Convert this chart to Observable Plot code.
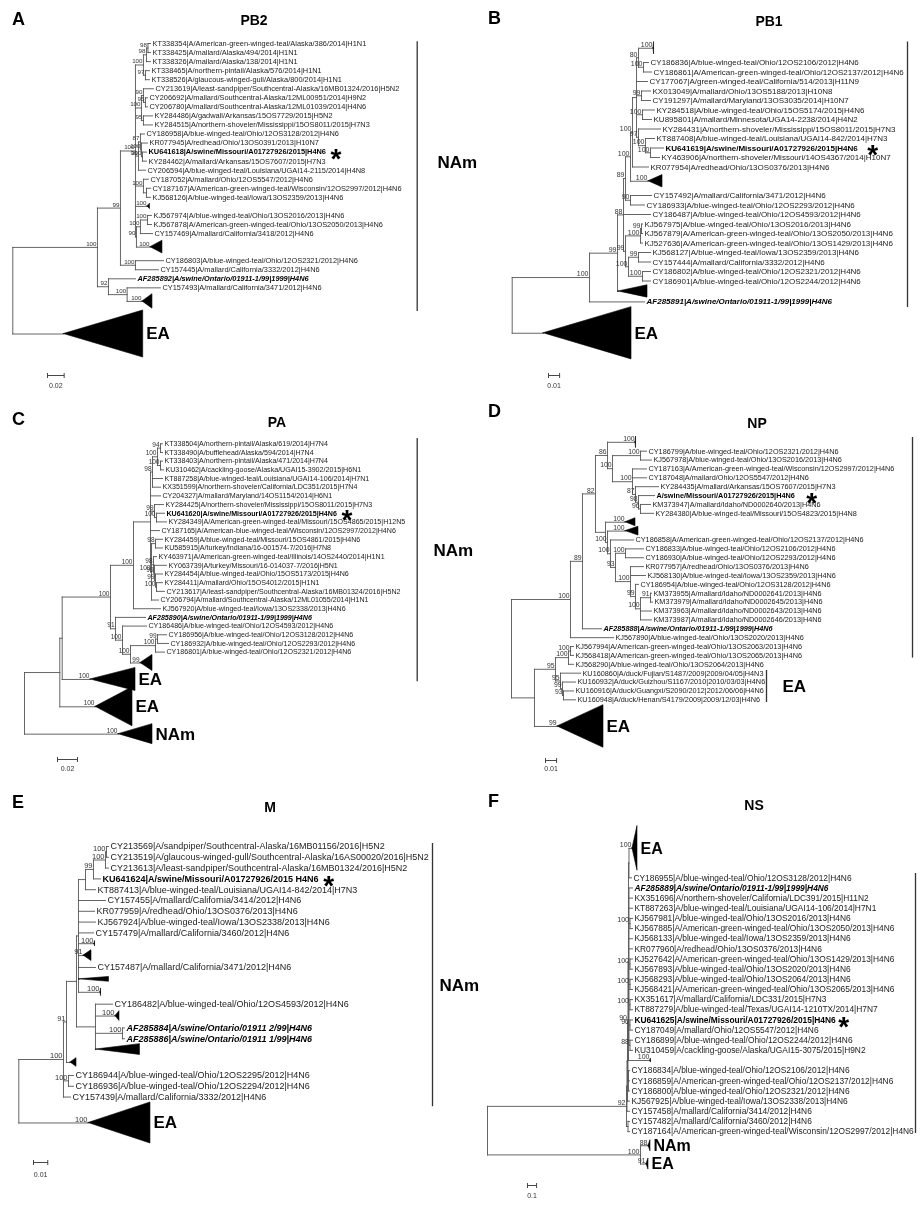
<!DOCTYPE html>
<html><head><meta charset="utf-8">
<script src="https://cdn.jsdelivr.net/npm/d3@7"></script>
<script src="https://cdn.jsdelivr.net/npm/@observablehq/plot@0.6"></script>
<style>
body{margin:0;background:#fff;}
#fig{position:relative;width:922px;height:1205px;overflow:hidden;font-family:"Liberation Sans",Arial,Helvetica,sans-serif;background:#fff;}
.panel{position:absolute;will-change:transform;}
.panel svg{overflow:visible;}
.lab{position:absolute;font-weight:bold;line-height:1;white-space:nowrap;color:#000;}
</style></head><body><div id="fig"></div>
<script>
// ---------- DATA: trees (Newick, branch lengths in substitutions/site; internal labels = bootstrap) ----------
// collapsed clade leaf: #slotRows/heightRows/length/label/support
const treePB2 = `(
 (
  (
   (
    (
     (
      (KT338354|A/American-green-winged-teal/Alaska/386/2014|H1N1:0.003,
       KT338425|A/mallard/Alaska/494/2014|H1N1:0.003)98:0.0018,
      KT338326|A/mallard/Alaska/138/2014|H1N1:0.0048)98:0.0036,
     (KT338465|A/northern-pintail/Alaska/576/2014|H1N1:0.0048,
      KT338526|A/glaucous-winged-gull/Alaska/800/2014|H1N1:0.0048)97:0.0024)100:0.0096,
    (
     (CY213619|A/least-sandpiper/Southcentral-Alaska/16MB01324/2016|H5N2:0.012,
      (CY206692|A/mallard/Southcentral-Alaska/12ML00951/2014|H9N2:0.0024,
       CY206780|A/mallard/Southcentral-Alaska/12ML01039/2014|H4N6:0.0024)95:0.0024)90:0.0024,
     (KY284486|A/gadwall/Arkansas/15OS7729/2015|H5N2:0.0108,
      KY284515|A/northern-shoveler/Mississippi/15OS8011/2015|H7N3:0.0108)95:0.0024)100:0.0072,
    (
     (CY186958|A/blue-winged-teal/Ohio/12OS3128/2012|H4N6:0.0048,
      (KR077945|A/redhead/Ohio/13OS0391/2013|H10N7:0.0072,
       (KU641618|A/swine/Missouri/A01727926/2015|H4N6:0.0048,
        KY284462|A/mallard/Arkansas/15OS7607/2015|H7N3:0.0048)100:0.0012)100:0.0012)87:0.0024,
     CY206594|A/blue-winged-teal/Louisiana/UGAI14-2115/2014|H4N8:0.0084)96:0.0036,
    (CY187052|A/mallard/Ohio/12OS5547/2012|H4N6:0.006,
     (CY187167|A/American-green-winged-teal/Wisconsin/12OS2997/2012|H4N6:0.0048,
      KJ568126|A/blue-winged-teal/Iowa/13OS2359/2013|H4N6:0.0048):0.0036)100:0.0096,
    #1/0.6/0.003//100:0.0144,
    (
     (
      (KJ567974|A/blue-winged-teal/Ohio/13OS2016/2013|H4N6:0.0048,
       KJ567878|A/American-green-winged-teal/Ohio/13OS2050/2013|H4N6:0.0048)100:0.0084,
      CY157469|A/mallard/California/3418/2012|H4N6:0.0144)100:0.0048,
     #2/1.4/0.0144//100:0.0168)90:0.0012)100:0.018,
   (CY186803|A/blue-winged-teal/Ohio/12OS2321/2012|H4N6:0.0336,
    CY157445|A/mallard/California/3332/2012|H4N6:0.0276)100:0.018)99:0.0276,
  (AF285892|A/swine/Ontario/01911-1/99|1999|H4N6:0.0324,
   (CY157493|A/mallard/California/3471/2012|H4N6:0.04,
    #2/1.6/0.012//100:0.0184)100:0.0224)92:0.0132)100:0.1016,
 #5.2/5.2/0.0953/EA/:0.0612
);`;

const treePB1 = `(
 (
  (
   (
    (
     (
      (
       (
        (#2/1.3/0.0005//100:0.0135,
         (CY186836|A/blue-winged-teal/Ohio/12OS2106/2012|H4N6:0.0045,
          CY186861|A/American-green-winged-teal/Ohio/12OS2137/2012|H4N6:0.0072)100:0.0045)80:0.0018,
        CY177067|A/green-winged-teal/California/514/2013|H11N9:0.0099,
        (KX013049|A/mallard/Ohio/13OS5188/2013|H10N8:0.0081,
         CY191297|A/mallard/Maryland/13OS3035/2014|H10N7:0.0081)99:0.0045,
        (KY284518|A/blue-winged-teal/Ohio/15OS5174/2015|H4N6:0.0108,
         KU895801|A/mallard/Minnesota/UGA14-2238/2014|H4N2:0.0081)100:0.0054,
        (KY284431|A/northern-shoveler/Mississippi/15OS8011/2015|H7N3:0.0198,
         (KT887408|A/blue-winged-teal/Louisiana/UGAI14-842/2014|H7N3:0.0081,
          (KU641619|A/swine/Missouri/A01727926/2015|H4N6:0.0117,
           KY463906|A/northern-shoveler/Missouri/14OS4367/2014|H10N7:0.0081)100:0.0045)100:0.0063)97:0.0018):0.0036,
       KR077954|A/redhead/Ohio/13OS0376/2013|H4N6:0.0144)100:0.0018,
      #2/1.3/0.0126//100:0.0162)100:0.0045,
     (CY157492|A/mallard/California/3471/2012|H4N6:0.0189,
      CY186933|A/blue-winged-teal/Ohio/12OS2293/2012|H4N6:0.0126)90:0.0045)89:0.0018,
    CY186487|A/blue-winged-teal/Ohio/12OS4593/2012|H4N6:0.0243,
    (
     (
      (KJ567975|A/blue-winged-teal/Ohio/13OS2016/2013|H4N6:0.0009,
       KJ567879|A/American-green-winged-teal/Ohio/13OS2050/2013|H4N6:0.0009)99:0.0009,
      KJ527636|A/American-green-winged-teal/Ohio/13OS1429/2013|H4N6:0.0018)100:0.0135,
     (
      (KJ568127|A/blue-winged-teal/Iowa/13OS2359/2013|H4N6:0.0108,
       CY157444|A/mallard/California/3332/2012|H4N6:0.0108)99:0.009,
      (CY186802|A/blue-winged-teal/Ohio/12OS2321/2012|H4N6:0.0072,
       CY186901|A/blue-winged-teal/Ohio/12OS2244/2012|H4N6:0.0072)100:0.0126)100:0.0027)99:0.0018)88:0.0054,
   #1.2/1.3/0.0261//:0.0009)99:0.0252,
  AF285891|A/swine/Ontario/01911-1/99|1999|H4N6:0.0495)100:0.0696,
 #5.6/5.5/0.0792/EA/:0.0282
);`;

const treePA = `(
 (
  (
   (
    (
     (
      (
       ((KT338504|A/northern-pintail/Alaska/619/2014|H7N4:0.002,
         KT338490|A/bufflehead/Alaska/594/2014|H7N4:0.002)94:0.003,
        (KT338403|A/northern-pintail/Alaska/471/2014|H7N4:0.002,
         KU310462|A/cackling-goose/Alaska/UGAI15-3902/2015|H6N1:0.003)100:0.003)100:0.005,
       KT887258|A/blue-winged-teal/Louisiana/UGAI14-106/2014|H7N1:0.010,
       KX351599|A/northern-shoveler/California/LDC351/2015|H7N4:0.008)98:0.002,
      CY204327|A/mallard/Maryland/14OS1154/2014|H6N1:0.010,
      (KY284425|A/northern-shoveler/Mississippi/15OS8011/2015|H7N3:0.009,
       (KU641620|A/swine/Missouri/A01727926/2015|H4N6:0.008,
        KY284349|A/American-green-winged-teal/Missouri/15OS4865/2015|H12N5:0.010)100:0.002)99:0.004,
      CY187165|A/American-blue-winged-teal/Wisconsin/12OS2997/2012|H4N6:0.009,
      (
       (KY284459|A/blue-winged-teal/Missouri/15OS4861/2015|H4N6:0.007,
        KU585915|A/turkey/Indiana/16-001574-7/2016|H7N8:0.007)98:0.004,
       (KY463971|A/American-green-winged-teal/Illinois/14OS2440/2014|H1N1:0.003,
        (KY063739|A/turkey/Missouri/16-014037-7/2016|H5N1:0.012,
         (KY284454|A/blue-winged-teal/Ohio/15OS5173/2015|H4N6:0.007,
          (KY284411|A/mallard/Ohio/15OS4012/2015|H1N1:0.006,
           CY213617|A/least-sandpiper/Southcentral-Alaska/16MB01324/2016|H5N2:0.008)100:0.001)99:0.001)99:0.001)98:0.002,
       CY206794|A/mallard/Southcentral-Alaska/12ML01055/2014|H1N1:0.007)100:0.001):0.017,
     KJ567920|A/blue-winged-teal/Iowa/13OS2338/2013|H4N6:0.027)100:0.023,
    (AF285890|A/swine/Ontario/01911-1/99|1999|H4N6:0.030,
     (CY186486|A/blue-winged-teal/Ohio/12OS4593/2012|H4N6:0.024,
      (
       ((CY186956|A/blue-winged-teal/Ohio/12OS3128/2012|H4N6:0.009,
         CY186932|A/blue-winged-teal/Ohio/12OS2293/2012|H4N6:0.011)99:0.002,
        CY186801|A/blue-winged-teal/Ohio/12OS2321/2012|H4N6:0.009)100:0.025,
       #1.5/1.85/0.012//99:0.010)100:0.008)100:0.007)91:0.005)100:0.0483,
   #2.3/2.65/0.045/EA/100:0.0283):0.0024,
  #4/4.5/0.037/EA/100:0.0357):0.0353,
 #2.3/2.3/0.034/NAm/100:0.094
);`;

const treeNP = `(
 (
  (
   (
    (#1/1.3/0.0005//100:0.0252,
     (
      (CY186799|A/blue-winged-teal/Ohio/12OS2321/2012|H4N6:0.0054,
       KJ567978|A/blue-winged-teal/Ohio/13OS2016/2013|H4N6:0.0099)100:0.0252,
      (CY187163|A/American-green-winged-teal/Wisconsin/12OS2997/2012|H4N6:0.0126,
       CY187048|A/mallard/Ohio/12OS5547/2012|H4N6:0.0126,
       (KY284435|A/mallard/Arkansas/15OS7607/2015|H7N3:0.0207,
        (A/swine/Missouri/A01727926/2015|H4N6:0.0144,
         (KM373947|A/mallard/Idaho/ND0002640/2013|H4N6:0.009,
          KY284380|A/blue-winged-teal/Missouri/15OS4823/2015|H4N8:0.0117)96:0.0018)98:0.0027)87:0.0027)100:0.018)100:0.0045)86:0.0108,
    (#1/0.9/0.009//100:0.018,
     (#1/1/0.0117//100:0.0162,
      (CY186858|A/American-green-winged-teal/Ohio/12OS2137/2012|H4N6:0.0207,
       (
        (CY186833|A/blue-winged-teal/Ohio/12OS2106/2012|H4N6:0.0162,
         CY186930|A/blue-winged-teal/Ohio/12OS2293/2012|H4N6:0.0162)100:0.009,
        (KR077957|A/redhead/Ohio/13OS0376/2013|H4N6:0.0117,
         KJ568130|A/blue-winged-teal/Iowa/13OS2359/2013|H4N6:0.0135,
         (CY186954|A/blue-winged-teal/Ohio/12OS3128/2012|H4N6:0.0027,
          (
           (KM373955|A/mallard/Idaho/ND0002641/2013|H4N6:0.0009,
            KM373979|A/mallard/Idaho/ND0002645/2013|H4N6:0.0018)91:0.009,
           KM373963|A/mallard/Idaho/ND0002643/2013|H4N6:0.0099,
           KM373987|A/mallard/Idaho/ND0002646/2013|H4N6:0.0099)100:0.0045)99:0.0045)100:0.0135)93:0.0045)100:0.0027)100:0.0018):0.009)82:0.0117,
   AF285888|A/swine/Ontario/01911-1/99|1999|H4N6:0.0171)89:0.0108,
  KJ567890|A/blue-winged-teal/Ohio/13OS2020/2013|H4N6:0.0387)100:0.0531,
 (
  (
   ((KJ567994|A/American-green-winged-teal/Ohio/13OS2063/2013|H4N6:0.0027,
     KJ568418|A/American-green-winged-teal/Ohio/13OS2065/2013|H4N6:0.0027)100:0.0018,
    KJ568290|A/blue-winged-teal/Ohio/13OS2064/2013|H4N6:0.0045)100:0.0117,
   (KU160860|A/duck/Fujian/S1487/2009|2009/04/05|H4N3:0.018,
    (KU160932|A/duck/Guizhou/S1167/2010|2010/03/03|H4N6:0.0117,
     (KU160916|A/duck/Guangxi/S2090/2012|2012/06/06|H4N6:0.009,
      KU160948|A/duck/Henan/S4179/2009|2009/12/03|H4N6:0.0108)93:0.0009)99:0.0018)95:0.0045)95:0.0189,
  #5/4.8/0.0414/EA/99:0.0207):0.0207
);`;

const treeM = `(
 (
  (
   (
    (
     (
      (
       (
        (CY213569|A/sandpiper/Southcentral-Alaska/16MB01156/2016|H5N2:0.0014,
         CY213519|A/glaucous-winged-gull/Southcentral-Alaska/16AS00020/2016|H5N2:0.0014)100:0.0007,
        CY213613|A/least-sandpiper/Southcentral-Alaska/16MB01324/2016|H5N2:0.0021)100:0.0084,
       KU641624|A/swine/Missouri/A01727926/2015 H4N6:0.0049)99:0.0056,
      KT887413|A/blue-winged-teal/Louisiana/UGAI14-842/2014|H7N3:0.007):0.0049,
     CY157455|A/mallard/California/3414/2012|H4N6:0.0189,
     KR077959|A/redhead/Ohio/13OS0376/2013|H4N6:0.0112,
     KJ567924|A/blue-winged-teal/Iowa/13OS2338/2013|H4N6:0.0119,
     CY157479|A/mallard/California/3460/2012|H4N6:0.0105,
     #1/0.5/0.0004//100:0.0112,
     #1.2/1/0.0056//91:0.0035,
     CY157487|A/mallard/California/3471/2012|H4N6:0.0119,
     #1.2/0.45/0.021//:0.00035,
     #1.2/0.7/0.0004//100:0.0154):0.0014,
    (CY186482|A/blue-winged-teal/Ohio/12OS4593/2012|H4N6:0.0119,
     #1.2/0.9/0.0028//100:0.014,
     (AF285884|A/swine/Ontario/01911 2/99|H4N6:0.0014,
      AF285886|A/swine/Ontario/01911 1/99|H4N6:0.0014)100:0.0189,
     #1/1/0.0308//:0.00035):0.0133):0.007,
   #1.4/0.8/0.0042//:0.0028)91:0.0021,
  (CY186944|A/blue-winged-teal/Ohio/12OS2295/2012|H4N6:0.0035,
   CY186936|A/blue-winged-teal/Ohio/12OS2294/2012|H4N6:0.0035)100:0.0035,
  CY157439|A/mallard/California/3332/2012|H4N6:0.0049)100:0.0313,
 #3.8/3.8/0.0434/EA/100:0.0488
);`;

const treeNS = `(
 (
  (
   (
    (
     (
      (#4.8/4.4/0.055/EA/100:0.0385,
       CY186955|A/blue-winged-teal/Ohio/12OS3128/2012|H4N6:0.0275):0.0055,
      (AF285889|A/swine/Ontario/01911-1/99|1999|H4N6:0.0385,
       KX351696|A/northern-shoveler/California/LDC391/2015|H11N2:0.0385,
       KT887263|A/blue-winged-teal/Louisiana/UGAI14-106/2014|H7N1:0.0385,
       (KJ567981|A/blue-winged-teal/Ohio/13OS2016/2013|H4N6:0.0275,
        KJ567885|A/American-green-winged-teal/Ohio/13OS2050/2013|H4N6:0.0275)100:0.011,
       KJ568133|A/blue-winged-teal/Iowa/13OS2359/2013|H4N6:0.0385,
       KR077960|A/redhead/Ohio/13OS0376/2013|H4N6:0.0385,
       (KJ527642|A/American-green-winged-teal/Ohio/13OS1429/2013|H4N6:0.0275,
        KJ567893|A/blue-winged-teal/Ohio/13OS2020/2013|H4N6:0.0275)100:0.011,
       (KJ568293|A/blue-winged-teal/Ohio/13OS2064/2013|H4N6:0.0275,
        KJ568421|A/American-green-winged-teal/Ohio/13OS2065/2013|H4N6:0.0275)100:0.011,
       (KX351617|A/mallard/California/LDC331/2015|H7N3:0.0275,
        KT887279|A/blue-winged-teal/Texas/UGAI14-1210TX/2014|H7N7:0.0275)100:0.011,
       (KU641625|A/swine/Missouri/A01727926/2015|H4N6:0.0275,
        CY187049|A/mallard/Ohio/12OS5547/2012|H4N6:0.0275)96:0.011,
       (CY186899|A/blue-winged-teal/Ohio/12OS2244/2012|H4N6:0.0275,
        KU310459|A/cackling-goose/Alaska/UGAI15-3075/2015|H9N2:0.0275)88:0.011):0.0055,
      #1/0.4/0.004//100:0.242):0.0055,
     (CY186834|A/blue-winged-teal/Ohio/12OS2106/2012|H4N6:0.011,
      CY186859|A/American-green-winged-teal/Ohio/12OS2137/2012|H4N6:0.011,
      CY186800|A/blue-winged-teal/Ohio/12OS2321/2012|H4N6:0.011):0.0055)90:0.0055,
    KJ567925|A/blue-winged-teal/Iowa/13OS2338/2013|H4N6:0.022):0.0055,
   CY157458|A/mallard/California/3414/2012|H4N6:0.0275):0.0055,
  (CY157482|A/mallard/California/3460/2012|H4N6:0.0165,
   CY187164|A/American-green-winged-teal/Wisconsin/12OS2997/2012|H4N6:0.0165):0.0165)92:1.529,
 (#1.8/1.1/0.022/NAm/88:0.088,
  #1.8/1.1/0.022/EA/91:0.066)100:1.683
);`;

const panelLetters = ["A", "B", "C", "D", "E", "F"];
const geneSegments = ["PB2", "PB1", "PA", "NP", "M", "NS"];
const trees = [treePB2, treePB1, treePA, treeNP, treeM, treeNS];
const scaleBarValues = [0.02, 0.01, 0.02, 0.01, 0.01, 0.1];
const scaleBarLabels = ["0.02", "0.01", "0.02", "0.01", "0.01", "0.1"];
const cladeBarLabels = [["NAm"], [""], ["NAm"], ["", "EA"], ["NAm"], [""]];

// ---------- LAYOUT (pixels) ----------
const layouts = [
  {left:0, top:0, w:460, h:400, rootX:12.3, ppu:833.3, row0:43, sp:9.05, tipFS:7.4, supFS:6.2, cladeFS:17,
   bars:[{px:416.7, y1:-0.2, y2:29.6, lx:437, ly:13.2}], sb:{px:47, py:375, ly:385}, starGap:10,
   letter:{x:12, base:25}, title:{x:254, base:25}},
  {left:460, top:0, w:460, h:400, rootX:51.7, ppu:1111, row0:43, sp:9.5, tipFS:8, supFS:7, cladeFS:17,
   bars:[{px:447, y1:-0.15, y2:27.8}], sb:{px:88, py:375, ly:385}, starGap:15,
   letter:{x:488, base:24}, title:{x:769, base:26}},
  {left:0, top:400, w:460, h:390, rootX:24, ppu:1000, row0:43.3, sp:8.68, tipFS:7.1, supFS:6.5, cladeFS:17,
   bars:[{px:416.7, y1:-0.6, y2:27.4, lx:433, ly:12.3}], sb:{px:57, py:359, ly:368}, starGap:10,
   letter:{x:12, base:425}, title:{x:277, base:427}},
  {left:460, top:400, w:460, h:390, rootX:51, ppu:1111, row0:41.8, sp:8.88, tipFS:7.3, supFS:6.8, cladeFS:17,
   bars:[{px:452, y1:-0.54, y2:24.3}, {px:306, y1:25.7, y2:29.3, lx:322, ly:27.5}], sb:{px:85, py:360, ly:368}, starGap:17,
   letter:{x:488, base:417}, title:{x:757, base:428}},
  {left:0, top:790, w:460, h:415, rootX:18.3, ppu:1428, row0:56, sp:10.8, tipFS:9, supFS:7.5, cladeFS:17,
   bars:[{px:432, y1:-0.28, y2:24.1, lx:439, ly:12.9}], sb:{px:33, py:372, ly:384}, starGap:10,
   letter:{x:12, base:808}, title:{x:270, base:812}},
  {left:460, top:790, w:460, h:415, rootX:27, ppu:90.9, row0:38.6, sp:10.15, tipFS:8.4, supFS:7, cladeFS:16,
   bars:[{px:455, y1:4.37, y2:30.0}], sb:{px:67, py:395, ly:405}, starGap:8,
   letter:{x:488, base:807}, title:{x:754, base:810}}
];

const FONT = '"Liberation Sans", Arial, Helvetica, sans-serif';
const LINE = "#555", TEXT = "#222";

function parseNewick(src) {
  const s = src.replace(/\s*\n\s*/g, "");
  let i = 0;
  function node() {
    const n = {children: []};
    if (s[i] === "(") {
      i++;
      n.children.push(node());
      while (s[i] === ",") { i++; n.children.push(node()); }
      i++;
    }
    let lab = "";
    while (i < s.length && !"(),:;".includes(s[i])) lab += s[i++];
    lab = lab.trim();
    let len = 0;
    if (s[i] === ":") { i++; let t = ""; while (i < s.length && !"(),;".includes(s[i])) t += s[i++]; len = +t; }
    n.len = len;
    if (n.children.length) n.support = lab;
    else if (lab.startsWith("#")) {
      const p = lab.slice(1).split("/");
      n.tri = {slot: +p[0], height: +p[1], length: +p[2], label: p[3] || "", support: p[4] || ""};
    } else n.name = lab;
    return n;
  }
  return node();
}

function build(root) {
  const segs = [], leaves = [], internals = [], tris = [];
  let slot = 0;
  (function walk(n, x) {
    n.x = x;
    if (n.children.length) {
      n.children.forEach(c => walk(c, x + c.len));
      const a = n.children[0], b = n.children[n.children.length - 1];
      n.y = (a.y + b.y) / 2;
      segs.push({x1: x, x2: x, y1: a.y, y2: b.y});
      n.children.forEach(c => segs.push({x1: x, x2: c.x, y1: c.y, y2: c.y}));
      internals.push(n);
    } else if (n.tri) {
      n.y = slot + n.tri.slot / 2 - 0.5;
      slot += n.tri.slot;
      tris.push(n);
    } else {
      n.y = slot; slot += 1;
      leaves.push(n);
    }
  })(root, 0);
  return {segs, leaves, internals, tris};
}

const ctx = document.createElement("canvas").getContext("2d");
function textWidth(str, size, weight) {
  ctx.font = `${weight} ${size}px "Liberation Sans", Arial, sans-serif`;
  return ctx.measureText(str).width;
}

const fig = document.getElementById("fig");

trees.forEach((src, k) => {
  const L = layouts[k];
  const T = build(parseNewick(src));
  const X = px => (px - L.rootX) / L.ppu;   // pixel -> tree units
  const Y = py => (py - L.row0) / L.sp;     // pixel -> row units

  const isBold = d => /swine\/Missouri/.test(d.name);
  const isBI = d => /swine\/Ontario/.test(d.name);
  const normal = T.leaves.filter(d => d.name && !isBold(d) && !isBI(d));
  const bold = T.leaves.filter(isBold);
  const bi = T.leaves.filter(isBI);

  const triPts = [];
  T.tris.forEach((t, j) => {
    triPts.push({id: j, x: t.x, y1: t.y, y2: t.y});
    triPts.push({id: j, x: t.x + t.tri.length, y1: t.y - t.tri.height / 2, y2: t.y + t.tri.height / 2});
  });
  const supports = T.internals.filter(n => n.support).map(n => ({x: n.x, y: n.y, s: n.support}))
    .concat(T.tris.filter(t => t.tri.support).map(t => ({x: t.x, y: t.y, s: t.tri.support})));
  const triLabels = T.tris.filter(t => t.tri.label).map(t => ({x: t.x + t.tri.length, y: t.y, s: t.tri.label}));

  const bars = L.bars.map((b, j) => ({x: X(b.px), y1: b.y1, y2: b.y2, label: cladeBarLabels[k][j] || "",
    lx: b.lx != null ? X(b.lx) : null, ly: b.ly}));
  const sbv = scaleBarValues[k];
  const sb = {x1: X(L.sb.px), x2: X(L.sb.px) + sbv, y: Y(L.sb.py)};
  const tickH = 2.5 / L.sp;

  const marks = [
    Plot.link(T.segs, {x1: "x1", x2: "x2", y1: "y1", y2: "y2", stroke: LINE, strokeWidth: 0.9, strokeLinecap: "square"}),
    Plot.areaY(triPts, {x: "x", y1: "y1", y2: "y2", z: "id", fill: "#000", stroke: "#000", strokeWidth: 0.6}),
    Plot.text(normal, {x: "x", y: "y", text: "name", dx: 2, textAnchor: "start", fontSize: L.tipFS, fill: TEXT, fontFamily: FONT}),
    Plot.text(bold, {x: "x", y: "y", text: "name", dx: 2, textAnchor: "start", fontSize: L.tipFS, fontWeight: "bold", fill: "#000", fontFamily: FONT}),
    Plot.text(bi, {x: "x", y: "y", text: "name", dx: 2, textAnchor: "start", fontSize: L.tipFS, fontWeight: "bold", fontStyle: "italic", fill: "#000", fontFamily: FONT}),
    Plot.text(supports, {x: "x", y: "y", text: "s", dx: -1, dy: -3.5, textAnchor: "end", fontSize: L.supFS, fill: "#333", fontFamily: FONT}),
    Plot.text(triLabels, {x: "x", y: "y", text: "s", dx: 3, textAnchor: "start", fontSize: L.cladeFS, fontWeight: "bold", fill: "#000", fontFamily: FONT}),
    Plot.ruleX(bars, {x: "x", y1: "y1", y2: "y2", stroke: "#333", strokeWidth: 1.3}),
    Plot.text(bars.filter(b => b.label), {x: "lx", y: "ly", text: "label", textAnchor: "start", fontSize: L.cladeFS, fontWeight: "bold", fill: "#000", fontFamily: FONT}),
    Plot.link([sb], {x1: "x1", x2: "x2", y1: "y", y2: "y", stroke: "#333", strokeWidth: 0.9}),
    Plot.link([{x: sb.x1, y: sb.y}, {x: sb.x2, y: sb.y}], {x1: "x", x2: "x", y1: d => d.y - tickH, y2: d => d.y + tickH, stroke: "#333", strokeWidth: 0.9}),
    Plot.text([{x: (sb.x1 + sb.x2) / 2, y: Y(L.sb.ly), s: scaleBarLabels[k]}], {x: "x", y: "y", text: "s", fontSize: 7, fill: "#333", fontFamily: FONT})
  ];
  bold.forEach(d => {
    const w = textWidth(d.name, L.tipFS, "bold");
    marks.push(Plot.text([d], {x: "x", y: "y", text: () => "*", dx: 2 + w + L.starGap, dy: 7, textAnchor: "middle", fontSize: 28, fontWeight: "bold", fill: "#000", fontFamily: FONT}));
  });

  const chart = Plot.plot({
    width: L.w, height: L.h, margin: 0,
    x: {type: "linear", domain: [0, 0.1], range: [L.rootX, L.rootX + 0.1 * L.ppu], axis: null},
    y: {type: "linear", domain: [0, 1], range: [L.row0, L.row0 + L.sp], axis: null},
    style: {background: "none", overflow: "visible", maxWidth: "none", fontFamily: FONT},
    marks
  });
  const div = document.createElement("div");
  div.className = "panel";
  div.style.left = L.left + "px";
  div.style.top = L.top + "px";
  div.appendChild(chart);
  fig.appendChild(div);

  const let_ = document.createElement("div");
  let_.className = "lab";
  let_.style.fontSize = "18px";
  let_.style.left = L.letter.x + "px";
  let_.style.top = (L.letter.base - 0.8465 * 18) + "px";
  let_.textContent = panelLetters[k];
  fig.appendChild(let_);

  const ti = document.createElement("div");
  ti.className = "lab";
  ti.style.fontSize = "14px";
  ti.style.left = L.title.x + "px";
  ti.style.transform = "translateX(-50%)";
  ti.style.top = (L.title.base - 0.8465 * 14) + "px";
  ti.textContent = geneSegments[k];
  fig.appendChild(ti);
});
</script>
</body></html>
